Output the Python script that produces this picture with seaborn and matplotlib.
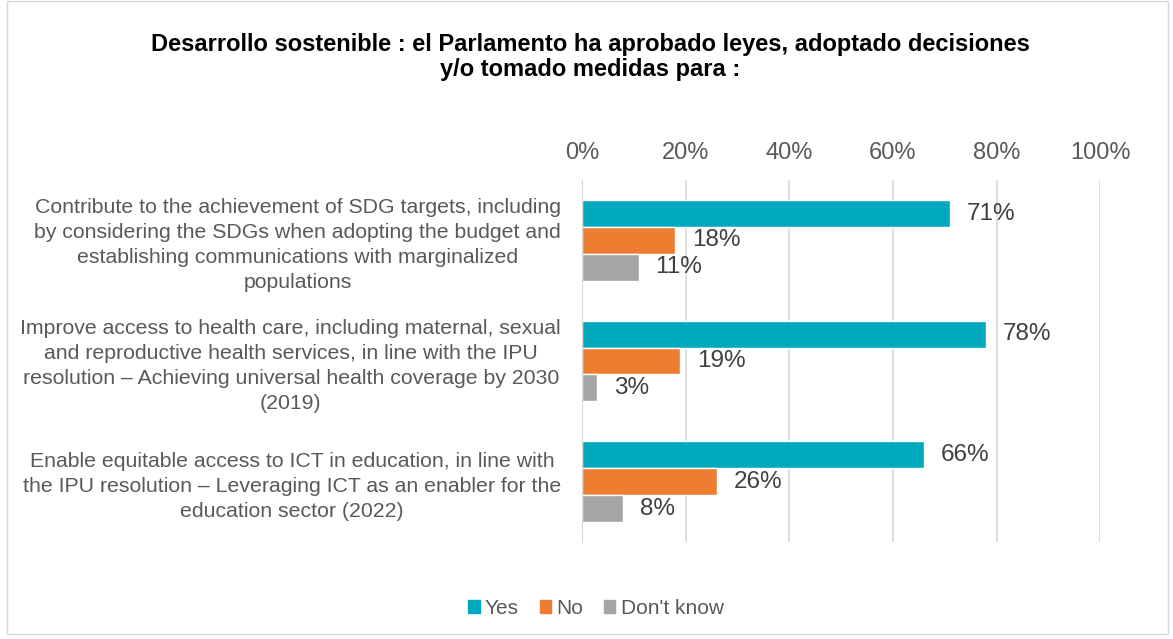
import matplotlib
matplotlib.use("Agg")
import matplotlib.pyplot as plt
import matplotlib.patches as mpatches
import seaborn as sns
import pandas as pd

# Datos
categorias = [
    "Contribute to the achievement of SDG targets, including\nby considering the SDGs when adopting the budget and\nestablishing communications with marginalized\npopulations",
    "Improve access to health care, including maternal, sexual\nand reproductive health services, in line with the IPU\nresolution \u2013 Achieving universal health coverage by 2030\n(2019)",
    "Enable equitable access to ICT in education, in line with\nthe IPU resolution \u2013 Leveraging ICT as an enabler for the\neducation sector (2022)",
]
respuestas = ["Yes", "No", "Don't know"]
yes_vals = [71, 78, 66]
no_vals = [18, 19, 26]
dk_vals = [11, 3, 8]
colores = ["#00A9BE", "#ED7D31", "#A5A5A5"]
titulo = "Desarrollo sostenible : el Parlamento ha aprobado leyes, adoptado decisiones\ny/o tomado medidas para :"

df = pd.DataFrame({
    "cat": categorias * 3,
    "resp": [r for r in respuestas for _ in categorias],
    "val": yes_vals + no_vals + dk_vals,
})

sns.set_style("white")
plt.rcParams["font.family"] = ["Liberation Sans", "DejaVu Sans"]
gris = "#595959"

fig = plt.figure(figsize=(11.73, 6.39), dpi=100)
ax = fig.add_axes([0.496, 0.152, 0.442, 0.566])

sns.barplot(data=df, y="cat", x="val", hue="resp", order=categorias,
            hue_order=respuestas, palette=colores, orient="h",
            width=0.67, ax=ax, legend=False, saturation=1)

for cont in ax.containers:
    ax.bar_label(cont, labels=[f"{int(v)}%" for v in cont.datavalues],
                 padding=12, fontsize=17.5, color="#404040")

ax.set_xlim(0, 100)
ax.set_ylim(2.5, -0.5)
ax.xaxis.tick_top()
ax.set_xticks([0, 20, 40, 60, 80, 100])
ax.set_xticklabels([f"{t}%" for t in range(0, 101, 20)])
ax.tick_params(axis="x", length=0, labelsize=17, labelcolor=gris, pad=12)
ax.tick_params(axis="y", length=0, labelsize=15.3, labelcolor=gris, pad=15)
for lab in ax.get_yticklabels():
    lab.set_multialignment("center")
    lab.set_linespacing(1.4)
ax.set_yticks([-0.5, 0.5, 1.5, 2.5], minor=True)
ax.tick_params(axis="y", which="minor", length=5, color="#D9D9D9", width=1)
ax.set_xlabel("")
ax.set_ylabel("")
ax.grid(axis="x", color="#D9D9D9", linewidth=1.2)
ax.set_axisbelow(True)
for s in ["top", "right", "bottom"]:
    ax.spines[s].set_visible(False)
ax.spines["left"].set_color("#D9D9D9")

fig.text(0.503, 0.911, titulo, ha="center", va="center", fontsize=17,
         fontweight="bold", color="black", linespacing=1.1)

handles = [mpatches.Patch(color=c, label=r) for c, r in zip(colores, respuestas)]
fig.legend(handles=handles, loc="center", bbox_to_anchor=(0.508, 0.048), ncol=3,
           frameon=False, fontsize=15, handlelength=0.55, handleheight=0.55,
           handletextpad=0.25, columnspacing=1.0, labelcolor=gris)

fig.patches.append(mpatches.Rectangle((0.006, 0.008), 0.99, 0.99, transform=fig.transFigure,
                                      fill=False, edgecolor="#D9D9D9", linewidth=1))

fig.savefig("out.png", dpi=100)
